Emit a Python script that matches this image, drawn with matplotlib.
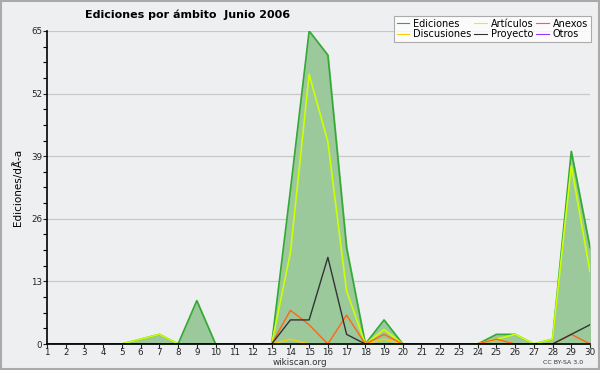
import numpy as np
import matplotlib
matplotlib.use('Agg')
import matplotlib.pyplot as plt
from matplotlib.ticker import MultipleLocator

days = list(range(1, 31))
ediciones   = [0,0,0,0,0,1,2,0,9,0, 0,0,0,32,65,60,20,0,5,0, 0,0,0,0,2,2,0,1,40,20]
articulos   = [0,0,0,0,0,1,2,0,0,0, 0,0,0,19,56,42,11,0,3,0, 0,0,0,0,1,2,0,1,37,15]
anexos      = [0,0,0,0,0,0,0,0,0,0, 0,0,0,7,4,0,6,0,2,0, 0,0,0,0,1,0,0,0,2,0]
discusiones = [0,0,0,0,0,0,0,0,0,0, 0,0,0,1,0,0,0,0,1,0, 0,0,0,0,1,0,0,0,0,0]
proyecto    = [0,0,0,0,0,0,0,0,0,0, 0,0,0,5,5,18,2,0,0,0, 0,0,0,0,0,0,0,0,2,4]
otros       = [0]*30
yticks = [0, 13, 26, 39, 52, 65]

bg = '#eeeff1'
fig = plt.figure(figsize=(6, 3.7), dpi=100, facecolor=bg)
ax = fig.add_axes([47/600, 26/370, 543/600, 313/370])
ax.set_facecolor(bg)

ax.fill_between(days, ediciones, color='#9cc99c', zorder=1)
l_ed, = ax.plot(days, ediciones, color='#33aa33', lw=1.2, zorder=3)
l_ar, = ax.plot(days, articulos, color='#ccff00', lw=1.2, zorder=4)
l_an, = ax.plot(days, anexos, color='#ff6611', lw=1.0, zorder=5)
l_di, = ax.plot(days, discusiones, color='#ffcc00', lw=1.0, zorder=4)
l_pr, = ax.plot(days, proyecto, color='#333333', lw=1.0, zorder=6)
l_ot, = ax.plot([], [], color='#9933ff', lw=1.0)

ax.set_xlim(1, 30)
ax.set_ylim(0, 65)
ax.set_xticks(days)
ax.set_yticks(yticks)
ax.yaxis.set_minor_locator(MultipleLocator(3.25))
ax.tick_params(axis='both', labelsize=6.3, length=3, width=0.8, pad=0.5, colors='#222222')
ax.tick_params(axis='x', pad=0)
ax.tick_params(axis='y', which='minor', length=3, width=0.8)
ax.grid(axis='y', color='#c8c8c8', lw=0.9, zorder=0)
ax.set_axisbelow(True)
for s in ['top', 'right']:
    ax.spines[s].set_visible(False)
for s in ['left', 'bottom']:
    ax.spines[s].set_linewidth(1.2)
    ax.spines[s].set_zorder(10)

ax.set_ylabel('Ediciones/dÃ\u0303-a', fontsize=7.5, labelpad=6)

fig.text(85/600, 1 - 15/370, 'Ediciones por ámbito  Junio 2006', fontsize=8,
         fontweight='bold', va='center', ha='left')
fig.text(300/600, 1 - 362.5/370, 'wikiscan.org', fontsize=6.3, ha='center', va='center', color='#333333')
fig.text(563/600, 1 - 362/370, 'CC BY-SA 3.0', fontsize=4.5, ha='center', va='center', color='#333333')

leg = fig.legend([l_ed, l_di, l_ar, l_pr, l_an, l_ot],
                 ['Ediciones', 'Discusiones', 'Artículos', 'Proyecto', 'Anexos', 'Otros'],
                 ncol=3, loc='upper right', bbox_to_anchor=(596/600, 1 - 11/370),
                 fontsize=7, frameon=True, fancybox=False, shadow=False,
                 handlelength=1.3, handletextpad=0.4, columnspacing=0.3,
                 labelspacing=0.05, borderpad=0.3)
leg.get_frame().set_edgecolor('#999999')
leg.get_frame().set_facecolor('white')
leg.get_frame().set_linewidth(0.8)
for h in leg.get_lines():
    h.set_linewidth(0.8)

fig.patches.append(plt.Rectangle((0.002, 0.003), 0.996, 0.994, transform=fig.transFigure,
                                 fill=False, edgecolor='#aaaaaa', lw=1.5))

fig.savefig('out.png', dpi=100, facecolor=bg)
